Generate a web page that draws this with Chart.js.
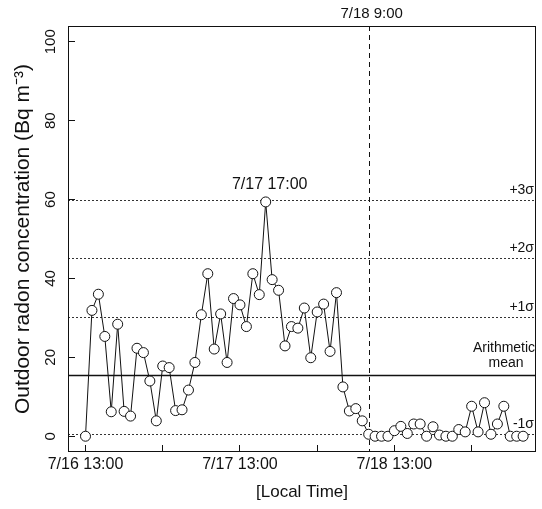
<!DOCTYPE html>
<html>
<head>
<meta charset="utf-8">
<style>
html,body{margin:0;padding:0;background:#fff;}
#wrap{width:542px;height:509px;position:relative;}
</style>
<script src="https://cdn.jsdelivr.net/npm/chart.js@4.4.1/dist/chart.umd.min.js"></script>
</head>
<body>
<div id="wrap"><canvas id="c" width="542" height="509"></canvas></div>
<script>
// Hours elapsed since 7/16 13:00 (local time), one sample per hour
const hours = [0,1,2,3,4,5,6,7,8,9,10,11,12,13,14,15,16,17,18,19,20,21,22,23,24,25,26,27,28,29,30,31,32,33,34,35,36,37,38,39,40,41,42,43,44,45,46,47,48,49,50,51,52,53,54,55,56,57,58,59,60,61,62,63,64,65,66,67,68];
// Outdoor radon concentration (Bq m-3)
const radon = [0,31.9,36.0,25.3,6.2,28.4,6.3,5.1,22.3,21.2,
  14.0,3.9,17.8,17.4,6.5,6.7,11.7,18.7,30.8,41.2,
  22.1,31.0,18.7,34.9,33.3,27.8,41.2,35.9,59.4,39.7,
  37.0,22.9,27.8,27.4,32.5,19.9,31.5,33.5,21.5,36.4,
  12.5,6.4,7.0,3.9,0.5,0,0,0,1.4,2.5,
  0.7,3.1,3.1,0,2.4,0.3,0,0,1.7,1.1,
  7.6,1.1,8.5,0.5,3.1,7.6,0,0,0];
const yTickValues = [0,20,40,60,80,100];
const xTickHours = [0,24,48];
const xTickLabels = ['7/16 13:00','7/17 13:00','7/18 13:00'];
const meanLevel = 15.4;
const sigmaLevels = [0.55,30.25,45.1,59.95];
const sigmaLabels = ['-1σ','+1σ','+2σ','+3σ'];
const eventHour = 44;
const eventLabel = '7/18 9:00';
const peakHour = 28;
const peakLabel = '7/17 17:00';

const FONT = "'Liberation Sans', Arial, Helvetica, sans-serif";

const overlay = {
  id: 'overlay',
  beforeDatasetsDraw(chart) {
    const {ctx, chartArea: a, scales: {x, y}} = chart;
    ctx.save();
    // arithmetic mean (solid)
    ctx.strokeStyle = '#111';
    ctx.lineWidth = 1.5;
    let py = y.getPixelForValue(meanLevel);
    ctx.beginPath(); ctx.moveTo(a.left, py); ctx.lineTo(a.right, py); ctx.stroke();
    // sigma levels (dotted)
    ctx.lineWidth = 1;
    ctx.strokeStyle = '#333';
    ctx.setLineDash([2, 2]);
    sigmaLevels.forEach(v => {
      const p = Math.round(y.getPixelForValue(v)) + 0.5;
      ctx.beginPath(); ctx.moveTo(a.left, p); ctx.lineTo(a.right, p); ctx.stroke();
    });
    // event marker (dashed vertical)
    ctx.strokeStyle = '#111';
    ctx.setLineDash([5, 4]);
    const px = Math.round(x.getPixelForValue(eventHour)) + 0.5;
    ctx.beginPath(); ctx.moveTo(px, a.top); ctx.lineTo(px, a.bottom); ctx.stroke();
    ctx.restore();
  },
  afterDraw(chart) {
    const {ctx, chartArea: a, scales: {x, y}} = chart;
    ctx.save();
    // plot box
    ctx.strokeStyle = '#111';
    ctx.lineWidth = 1;
    const l = Math.round(a.left) + 0.5, t = Math.round(a.top) + 0.5;
    const r = Math.round(a.right) - 0.5, b = Math.round(a.bottom) - 0.5;
    ctx.strokeRect(l, t, r - l, b - t);
    // labels
    ctx.fillStyle = '#111';
    ctx.textBaseline = 'middle';
    ctx.font = '14px ' + FONT;
    ctx.textAlign = 'right';
    sigmaLevels.forEach((v, i) => {
      ctx.fillText(sigmaLabels[i], a.right - 2, y.getPixelForValue(v) - 10);
    });
    ctx.textAlign = 'center';
    const my = y.getPixelForValue(meanLevel);
    ctx.fillText('Arithmetic', a.right - 32, my - 27);
    ctx.fillText('mean', a.right - 30, my - 12);
    ctx.font = '15px ' + FONT;
    ctx.fillText(eventLabel, x.getPixelForValue(eventHour) + 3, a.top - 12);
    ctx.font = '16px ' + FONT;
    ctx.fillText(peakLabel, x.getPixelForValue(peakHour) + 4, y.getPixelForValue(radon[hours.indexOf(peakHour)]) - 17);
    ctx.restore();
  }
};

new Chart(document.getElementById('c'), {
  type: 'line',
  data: {
    datasets: [{
      data: hours.map((h, i) => ({x: h, y: radon[i]})),
      borderColor: '#111',
      borderWidth: 1,
      pointRadius: 5,
      pointBorderWidth: 1,
      pointBorderColor: '#111',
      pointBackgroundColor: '#fff',
      tension: 0,
      fill: false
    }]
  },
  options: {
    responsive: false,
    devicePixelRatio: 1,
    animation: false,
    layout: {padding: {top: 26, right: 5, left: 0, bottom: 0}},
    plugins: {legend: {display: false}, tooltip: {enabled: false}},
    scales: {
      x: {
        type: 'linear',
        min: -2.72,
        max: 70,
        afterFit(s) { s.height = 57; },
        border: {display: false},
        grid: {display: true, drawOnChartArea: false, drawTicks: true, tickLength: -7, color: '#111'},
        ticks: {
          stepSize: 12,
          includeBounds: false,
          autoSkip: false,
          maxRotation: 0,
          padding: 10,
          color: '#111',
          font: {family: FONT, size: 16},
          callback(v) { const k = xTickHours.indexOf(v); return k >= 0 ? xTickLabels[k] : ''; }
        },
        title: {display: true, text: '[Local Time]', color: '#111', font: {family: FONT, size: 17}, padding: {top: 0, bottom: 6}}
      },
      y: {
        type: 'linear',
        min: -4,
        max: 104,
        afterFit(s) { s.width = 68; },
        border: {display: false},
        grid: {display: true, drawOnChartArea: false, drawTicks: true, tickLength: -7, color: '#111'},
        ticks: {
          stepSize: 20,
          includeBounds: false,
          minRotation: 90,
          maxRotation: 90,
          crossAlign: 'center',
          padding: 12,
          color: '#111',
          font: {family: FONT, size: 15},
          callback(v) { return yTickValues.includes(v) ? String(v) : ''; }
        },
        title: {display: true, text: 'Outdoor radon concentration (Bq m\u207B\u00B3)', color: '#111', font: {family: FONT, size: 21}, padding: {top: 11, bottom: 0}}
      }
    }
  },
  plugins: [overlay]
});
</script>
</body>
</html>
